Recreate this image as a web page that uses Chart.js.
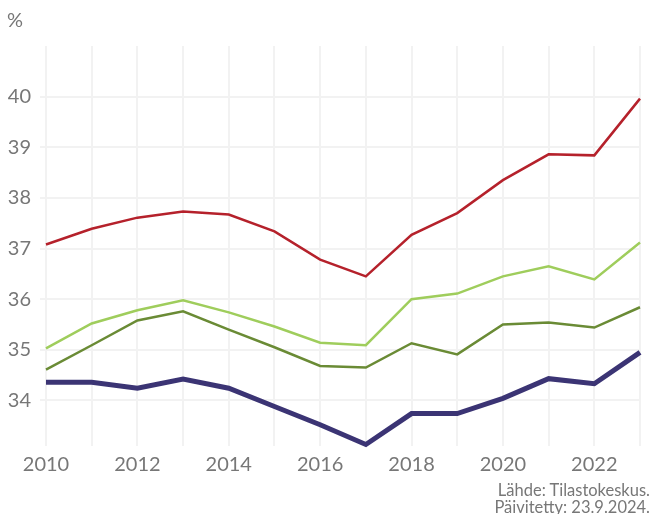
<!DOCTYPE html>
<html lang="fi">
<head>
    <meta charset="UTF-8">
    <title>Chart</title>
    <script src="https://cdn.jsdelivr.net/npm/chart.js"></script>
    <style>
        body {
            margin: 0;
            background: #ffffff;
            font-family: Lato, "Open Sans", sans-serif;
        }
        .wrap {
            position: relative;
            width: 651px;
            height: 514px;
        }
        .unit {
            position: absolute;
            left: 7px;
            top: 7px;
            font-size: 20px;
            color: #777777;
        }
        .source {
            position: absolute;
            right: 1px;
            top: 482px;
            font-size: 16.5px;
            line-height: 17px;
            color: #777777;
            text-align: right;
        }
    </style>
</head>
<body>
<div class="wrap">
    <canvas id="chart" width="651" height="514"></canvas>
    <div class="unit">%</div>
    <div class="source">Lähde: Tilastokeskus.<br>Päivitetty: 23.9.2024.</div>
</div>
<script>
    const years = ['2010', '2011', '2012', '2013', '2014', '2015', '2016', '2017', '2018', '2019', '2020', '2021', '2022', '2023'];
    const redSeries = [37.08, 37.39, 37.61, 37.73, 37.67, 37.34, 36.78, 36.45, 37.27, 37.70, 38.35, 38.86, 38.84, 39.96];
    const lightGreenSeries = [35.03, 35.52, 35.78, 35.98, 35.74, 35.46, 35.14, 35.09, 36.00, 36.11, 36.45, 36.65, 36.39, 37.12];
    const darkGreenSeries = [34.61, 35.09, 35.58, 35.76, 35.40, 35.05, 34.68, 34.65, 35.13, 34.91, 35.50, 35.54, 35.44, 35.84];
    const blueSeries = [34.36, 34.36, 34.24, 34.42, 34.24, 33.88, 33.52, 33.13, 33.74, 33.74, 34.04, 34.43, 34.33, 34.95];
    const yTicks = [34, 35, 36, 37, 38, 39, 40];

    function line(data, color, width) {
        return {
            data: data,
            borderColor: color,
            borderWidth: width,
            pointRadius: 0,
            tension: 0,
            fill: false,
            clip: false
        };
    }

    const tickFont = { family: 'Lato, "Open Sans", sans-serif', size: 20, weight: 'normal' };

    new Chart(document.getElementById('chart'), {
        type: 'line',
        data: {
            labels: years,
            datasets: [
                line(redSeries, '#b5212b', 2.5),
                line(lightGreenSeries, '#9fcd5c', 2.5),
                line(darkGreenSeries, '#6a8b35', 2.5),
                line(blueSeries, '#3b3474', 5)
            ]
        },
        options: {
            responsive: false,
            animation: false,
            layout: { padding: { top: 46, right: 11, left: 0, bottom: 0 } },
            plugins: {
                legend: { display: false },
                tooltip: { enabled: false }
            },
            scales: {
                x: {
                    border: { display: false },
                    grid: { color: '#f2f2f2', lineWidth: 2, drawTicks: false },
                    ticks: {
                        color: '#777777',
                        font: tickFont,
                        padding: 7,
                        maxRotation: 0,
                        autoSkip: false,
                        callback: function(value, index) {
                            return index % 2 === 0 ? years[index] : '';
                        }
                    },
                    afterFit: function(scale) { scale.height = 68; }
                },
                y: {
                    min: 33.1,
                    max: 41,
                    border: { display: false },
                    grid: { color: '#f2f2f2', lineWidth: 2, tickLength: 6 },
                    afterBuildTicks: function(scale) {
                        scale.ticks = yTicks.map(v => ({ value: v }));
                    },
                    ticks: {
                        color: '#777777',
                        font: tickFont,
                        padding: 9
                    },
                    afterFit: function(scale) { scale.width = 46; }
                }
            }
        }
    });
</script>
</body>
</html>
